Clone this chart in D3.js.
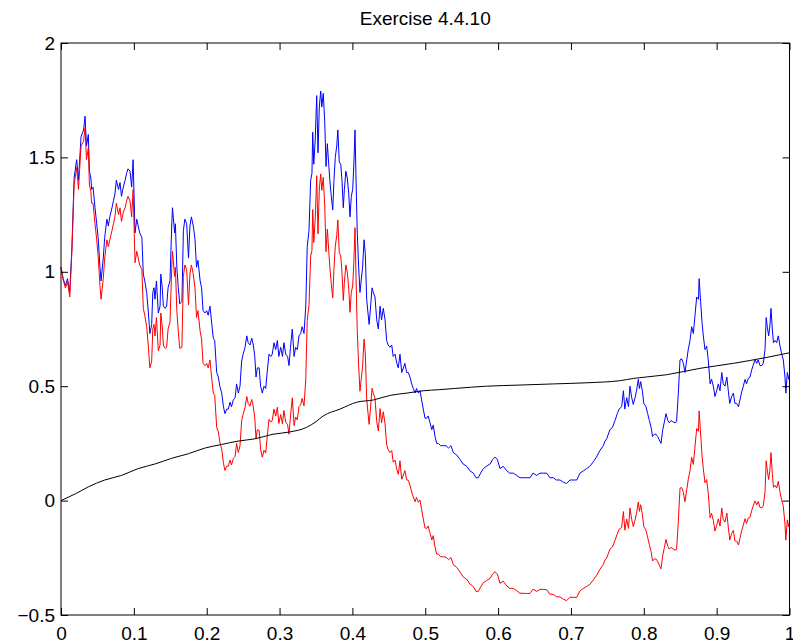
<!DOCTYPE html>
<html>
<head>
<meta charset="utf-8">
<script src="https://cdn.jsdelivr.net/npm/d3@7"></script>
<style>
  body { margin: 0; background: #fff; }
  svg { display: block; font-family: "Liberation Sans", Arial, Helvetica, sans-serif; }
</style>
</head>
<body>
<svg id="chart"></svg>
<script>
"use strict";

// time grid shared by the blue and red paths
var t = [0,0.003,0.006,0.009,0.012,0.015,0.018,0.0215,0.024,0.0275,
  0.031,0.033,0.035,0.0375,0.039,0.041,0.042,0.044,0.0467,0.049,
  0.051,0.0535,0.055,0.058,0.06,0.063,0.065,0.067,0.07,0.072,
  0.074,0.076,0.079,0.081,0.083,0.0855,0.088,0.09,0.092,0.0947,
  0.097,0.099,0.1016,0.104,0.106,0.108,0.111,0.113,0.115,0.1176,
  0.12,0.122,0.1245,0.126,0.1277,0.129,0.131,0.1336,0.136,0.137,
  0.139,0.1405,0.143,0.145,0.147,0.1496,0.152,0.153,0.156,0.157,
  0.159,0.161,0.163,0.166,0.168,0.17,0.1725,0.175,0.177,0.179,
  0.1816,0.184,0.186,0.188,0.191,0.193,0.195,0.1977,0.2,0.202,
  0.2045,0.207,0.209,0.211,0.2137,0.216,0.218,0.2206,0.223,0.225,
  0.2275,0.2296,0.232,0.234,0.2365,0.239,0.241,0.2434,0.2457,0.248,
  0.25,0.2526,0.255,0.257,0.2594,0.2618,0.264,0.266,0.2677,0.2695,
  0.272,0.274,0.2763,0.2787,0.281,0.283,0.2855,0.288,0.29,0.2924,
  0.2947,0.297,0.299,0.3016,0.304,0.306,0.3085,0.311,0.313,0.315,
  0.3175,0.32,0.322,0.3244,0.3267,0.329,0.331,0.3336,0.336,0.338,
  0.3404,0.3427,0.3445,0.3455,0.347,0.349,0.351,0.3528,0.3546,0.3565,
  0.358,0.36,0.362,0.3638,0.3656,0.3675,0.369,0.371,0.373,0.3747,
  0.3765,0.3785,0.38,0.382,0.384,0.3857,0.3875,0.389,0.391,0.393,
  0.395,0.3967,0.3985,0.4004,0.402,0.4036,0.405,0.4067,0.4086,0.4104,
  0.412,0.414,0.416,0.4177,0.4196,0.4214,0.423,0.425,0.427,0.4287,
  0.431,0.4334,0.4356,0.438,0.44,0.4424,0.4448,0.447,0.449,0.4516,
  0.454,0.456,0.4585,0.461,0.463,0.4653,0.4677,0.47,0.472,0.4745,
  0.4767,0.479,0.4814,0.4836,0.486,0.488,0.4905,0.4928,0.495,0.4973,
  0.4997,0.502,0.504,0.5065,0.509,0.511,0.5134,0.5157,0.518,0.521,
  0.525,0.5285,0.532,0.5353,0.5385,0.543,0.5477,0.552,0.557,0.5614,
  0.566,0.5697,0.5728,0.576,0.5797,0.584,0.589,0.5926,0.5957,0.599,
  0.6026,0.607,0.612,0.616,0.621,0.6255,0.63,0.6346,0.639,0.6438,
  0.648,0.653,0.6575,0.662,0.6667,0.671,0.6758,0.68,0.685,0.6895,
  0.694,0.6987,0.703,0.708,0.7124,0.717,0.7216,0.726,0.7307,0.735,
  0.74,0.7444,0.7467,0.749,0.7536,0.757,0.7605,0.7636,0.766,0.7696,
  0.772,0.774,0.7765,0.779,0.781,0.7834,0.7856,0.788,0.79,0.7925,
  0.794,0.7957,0.798,0.8,0.803,0.8053,0.8076,0.81,0.812,0.8145,
  0.8167,0.819,0.8213,0.8236,0.826,0.828,0.8305,0.833,0.835,0.8373,
  0.8397,0.8428,0.845,0.8474,0.8497,0.852,0.8543,0.8565,0.859,0.861,
  0.8634,0.8657,0.868,0.87,0.8726,0.875,0.876,0.878,0.88,0.8817,
  0.884,0.8863,0.8885,0.891,0.893,0.8955,0.8977,0.9,0.9023,0.9046,
  0.907,0.909,0.9115,0.914,0.916,0.918,0.9206,0.923,0.925,0.9275,
  0.93,0.932,0.934,0.9366,0.939,0.941,0.9435,0.9458,0.948,0.95,
  0.9526,0.955,0.957,0.9595,0.962,0.964,0.9664,0.968,0.9695,0.9714,
  0.973,0.9746,0.9764,0.978,0.98,0.9824,0.9846,0.987,0.989,0.9915,
  0.9938,0.995,0.997,0.999,1];

var blue = [1.02,0.97,0.94,0.97,0.91,1.11,1.41,1.49,1.40,1.59,
  1.62,1.68,1.55,1.60,1.44,1.41,1.36,1.37,1.28,1.21,
  1.15,1.02,0.96,1.06,1.15,1.23,1.20,1.24,1.28,1.31,
  1.34,1.40,1.36,1.39,1.33,1.37,1.40,1.43,1.45,1.44,
  1.37,1.49,1.17,1.23,1.20,1.17,1.15,0.99,0.96,0.91,
  0.82,0.73,0.77,0.91,0.93,0.88,0.96,0.82,0.85,0.99,
  0.93,0.85,0.84,0.85,0.93,0.96,1.20,1.28,1.17,1.21,
  1.02,0.93,0.86,0.87,1.18,1.23,1.21,1.06,1.20,1.24,
  1.20,1.14,1.02,1.05,0.96,0.93,0.83,0.82,0.83,0.81,
  0.85,0.77,0.71,0.70,0.56,0.54,0.50,0.47,0.41,0.38,
  0.40,0.40,0.43,0.41,0.44,0.45,0.51,0.47,0.50,0.61,
  0.64,0.67,0.72,0.69,0.68,0.71,0.68,0.63,0.54,0.58,
  0.58,0.50,0.47,0.50,0.49,0.56,0.64,0.63,0.64,0.69,
  0.66,0.70,0.63,0.67,0.63,0.69,0.64,0.63,0.59,0.67,
  0.75,0.63,0.67,0.66,0.72,0.73,0.76,0.73,0.85,1.11,
  1.18,1.40,1.43,1.61,1.47,1.58,1.77,1.52,1.72,1.79,
  1.72,1.78,1.66,1.46,1.56,1.47,1.40,1.33,1.27,1.40,
  1.50,1.55,1.62,1.48,1.47,1.40,1.28,1.36,1.44,1.41,
  1.34,1.24,1.33,1.36,1.47,1.62,1.40,1.17,1.02,0.91,
  0.96,1.02,1.14,1.08,0.88,0.82,0.77,0.85,0.93,0.91,
  0.89,0.79,0.75,0.85,0.79,0.84,0.79,0.70,0.68,0.67,
  0.68,0.63,0.64,0.60,0.58,0.64,0.56,0.58,0.60,0.56,
  0.56,0.54,0.51,0.49,0.47,0.49,0.47,0.48,0.44,0.40,
  0.36,0.36,0.37,0.34,0.31,0.33,0.28,0.25,0.25,0.24,
  0.24,0.24,0.23,0.24,0.21,0.20,0.18,0.16,0.15,0.13,
  0.12,0.10,0.10,0.12,0.14,0.15,0.16,0.18,0.19,0.18,
  0.14,0.15,0.13,0.12,0.12,0.11,0.10,0.10,0.10,0.10,
  0.12,0.11,0.12,0.12,0.12,0.10,0.10,0.09,0.09,0.08,
  0.075,0.09,0.09,0.09,0.12,0.13,0.14,0.15,0.17,0.19,
  0.22,0.24,0.26,0.27,0.31,0.32,0.35,0.38,0.40,0.41,
  0.48,0.40,0.45,0.41,0.50,0.45,0.42,0.45,0.48,0.53,
  0.49,0.52,0.48,0.425,0.41,0.38,0.35,0.32,0.28,0.29,
  0.29,0.28,0.265,0.25,0.31,0.34,0.38,0.35,0.34,0.35,
  0.345,0.34,0.345,0.47,0.615,0.62,0.60,0.56,0.615,0.66,
  0.70,0.76,0.73,0.80,0.89,0.88,0.97,0.87,0.775,0.72,
  0.66,0.675,0.615,0.51,0.53,0.50,0.455,0.48,0.51,0.48,
  0.56,0.51,0.50,0.54,0.48,0.425,0.455,0.47,0.425,0.425,
  0.41,0.44,0.47,0.50,0.53,0.51,0.535,0.54,0.57,0.59,
  0.615,0.60,0.615,0.59,0.59,0.60,0.66,0.80,0.76,0.72,
  0.76,0.84,0.75,0.69,0.70,0.69,0.72,0.675,0.645,0.615,
  0.54,0.47,0.56,0.53,0.55];

var red = [1.02,0.965,0.93,0.956,0.89,1.09,1.38,1.456,1.36,1.55,
  1.57,1.63,1.49,1.54,1.38,1.35,1.30,1.30,1.21,1.14,
  1.07,0.94,0.88,0.97,1.06,1.14,1.11,1.14,1.18,1.21,
  1.24,1.30,1.25,1.28,1.22,1.26,1.28,1.31,1.33,1.31,
  1.24,1.36,1.04,1.09,1.06,1.03,1.01,0.84,0.81,0.76,
  0.67,0.58,0.61,0.75,0.77,0.72,0.80,0.655,0.68,0.82,
  0.76,0.68,0.665,0.67,0.75,0.78,1.015,1.09,0.98,1.02,
  0.83,0.74,0.665,0.67,0.98,1.03,1.01,0.855,0.99,1.03,
  0.99,0.925,0.80,0.83,0.74,0.705,0.60,0.59,0.60,0.58,
  0.615,0.53,0.47,0.46,0.32,0.30,0.256,0.225,0.163,0.132,
  0.15,0.15,0.177,0.156,0.184,0.193,0.25,0.21,0.24,0.35,
  0.377,0.406,0.455,0.424,0.413,0.442,0.41,0.36,0.27,0.31,
  0.306,0.224,0.19,0.22,0.208,0.277,0.355,0.343,0.351,0.40,
  0.369,0.408,0.337,0.376,0.335,0.394,0.343,0.332,0.29,0.37,
  0.449,0.327,0.365,0.353,0.411,0.419,0.447,0.414,0.531,0.788,
  0.853,1.068,1.094,1.272,1.128,1.234,1.42,1.166,1.362,1.428,
  1.356,1.413,1.29,1.088,1.186,1.093,1.021,0.948,0.886,1.014,
  1.112,1.159,1.227,1.084,1.07,0.998,0.875,0.953,1.03,0.998,
  0.925,0.823,0.91,0.938,1.045,1.193,0.971,0.74,0.589,0.478,
  0.527,0.587,0.706,0.645,0.444,0.383,0.333,0.412,0.491,0.47,
  0.448,0.346,0.304,0.402,0.34,0.388,0.336,0.245,0.223,0.21,
  0.219,0.168,0.177,0.136,0.115,0.174,0.093,0.112,0.131,0.09,
  0.089,0.068,0.037,0.016,-0.005,0.014,-0.007,0.002,-0.039,-0.08,
  -0.12,-0.121,-0.111,-0.142,-0.172,-0.153,-0.203,-0.234,-0.234,-0.245,
  -0.246,-0.247,-0.258,-0.249,-0.28,-0.291,-0.312,-0.333,-0.344,-0.365,
  -0.376,-0.397,-0.397,-0.378,-0.359,-0.35,-0.34,-0.32,-0.311,-0.321,
  -0.362,-0.352,-0.373,-0.383,-0.384,-0.394,-0.405,-0.405,-0.406,-0.406,
  -0.387,-0.397,-0.388,-0.388,-0.389,-0.409,-0.41,-0.42,-0.421,-0.431,
  -0.437,-0.422,-0.423,-0.423,-0.394,-0.384,-0.375,-0.366,-0.347,-0.328,
  -0.299,-0.28,-0.26,-0.251,-0.212,-0.203,-0.174,-0.145,-0.126,-0.117,
  -0.048,-0.129,-0.08,-0.121,-0.032,-0.083,-0.114,-0.085,-0.055,-0.006,
  -0.047,-0.018,-0.059,-0.114,-0.13,-0.161,-0.192,-0.223,-0.264,-0.255,
  -0.255,-0.266,-0.282,-0.298,-0.239,-0.209,-0.17,-0.201,-0.212,-0.204,
  -0.21,-0.217,-0.213,-0.09,0.054,0.057,0.036,-0.005,0.048,0.092,
  0.13,0.189,0.158,0.227,0.315,0.303,0.392,0.291,0.195,0.139,
  0.078,0.092,0.031,-0.075,-0.056,-0.087,-0.133,-0.109,-0.08,-0.111,
  -0.032,-0.083,-0.094,-0.055,-0.116,-0.172,-0.143,-0.13,-0.176,-0.177,
  -0.194,-0.165,-0.136,-0.107,-0.079,-0.10,-0.076,-0.073,-0.044,-0.025,
  -0.001,-0.018,-0.004,-0.03,-0.032,-0.023,0.035,0.174,0.133,0.092,
  0.131,0.21,0.119,0.058,0.067,0.055,0.084,0.037,0.006,-0.025,
  -0.102,-0.173,-0.084,-0.115,-0.096];

// smooth black curve, own grid
var tBlack = [0,0.01,0.02,0.0375,0.06,0.083,0.106,0.129,0.152,0.175,
  0.198,0.22,0.243,0.266,0.291,0.314,0.337,0.35,0.36,0.383,
  0.406,0.429,0.452,0.475,0.497,0.52,0.54,0.584,0.63,0.676,
  0.722,0.767,0.786,0.831,0.877,0.923,0.969,1];
var black = [0,0.015,0.03,0.06,0.09,0.11,0.14,0.16,0.185,0.205,
  0.23,0.245,0.26,0.27,0.29,0.30,0.32,0.345,0.37,0.40,
  0.43,0.44,0.46,0.47,0.48,0.485,0.49,0.50,0.505,0.51,
  0.515,0.524,0.534,0.55,0.578,0.60,0.626,0.646];

var xTicks = [0,0.1,0.2,0.3,0.4,0.5,0.6,0.7,0.8,0.9,1];
var yTicks = [-0.5,0,0.5,1,1.5,2];
var title = "Exercise 4.4.10";

var W = 793, H = 643;
var margin = {left: 61, top: 43, right: 3.5, bottom: 28};
var w = W - margin.left - margin.right;
var h = H - margin.top - margin.bottom;

var svg = d3.select("#chart").attr("width", W).attr("height", H);
var g = svg.append("g").attr("transform", "translate(" + margin.left + "," + margin.top + ")");

var x = d3.scaleLinear().domain([0, 1]).range([0, w]);
var y = d3.scaleLinear().domain([-0.5, 2]).range([h, 0]);

var fmt = function(d) { return d3.format("")(+d.toFixed(1)); };

// lines first, axes on top
var line = d3.line().x(d => x(d[0])).y(d => y(d[1]));

g.append("path")
    .datum(t.map((v, i) => [v, blue[i]]))
    .attr("d", line)
    .attr("fill", "none").attr("stroke", "#0000ff").attr("stroke-width", 1);

g.append("path")
    .datum(t.map((v, i) => [v, red[i]]))
    .attr("d", line)
    .attr("fill", "none").attr("stroke", "#ff0000").attr("stroke-width", 1);

g.append("path")
    .datum(tBlack.map((v, i) => [v, black[i]]))
    .attr("d", line.curve(d3.curveMonotoneX))
    .attr("fill", "none").attr("stroke", "#000").attr("stroke-width", 1);

// axes, ticks pointing inward on all four sides
var tk = 7;
g.append("g").attr("transform", "translate(0," + h + ")")
    .call(d3.axisBottom(x).tickValues(xTicks).tickFormat(fmt).tickSizeInner(-tk).tickSizeOuter(0).tickPadding(12));
g.append("g").attr("transform", "translate(0,0)")
    .call(d3.axisTop(x).tickValues(xTicks).tickFormat("").tickSizeInner(-tk).tickSizeOuter(0));
g.append("g")
    .call(d3.axisLeft(y).tickValues(yTicks).tickFormat(fmt).tickSizeInner(-tk).tickSizeOuter(0).tickPadding(6));
g.append("g").attr("transform", "translate(" + w + ",0)")
    .call(d3.axisRight(y).tickValues(yTicks).tickFormat("").tickSizeInner(-tk).tickSizeOuter(0));

g.selectAll(".domain").remove();
g.selectAll(".tick line").attr("stroke", "#000");
g.selectAll(".tick text")
    .attr("fill", "#000")
    .style("font-size", "19px")
    .style("font-family", "\"Liberation Sans\", Arial, sans-serif");

// box
g.append("rect")
    .attr("width", w).attr("height", h)
    .attr("fill", "none").attr("stroke", "#000").attr("stroke-width", 1);

svg.append("text")
    .attr("x", margin.left + w / 2)
    .attr("y", 25)
    .attr("text-anchor", "middle")
    .style("font-size", "19px")
    .text(title);
</script>
</body>
</html>
